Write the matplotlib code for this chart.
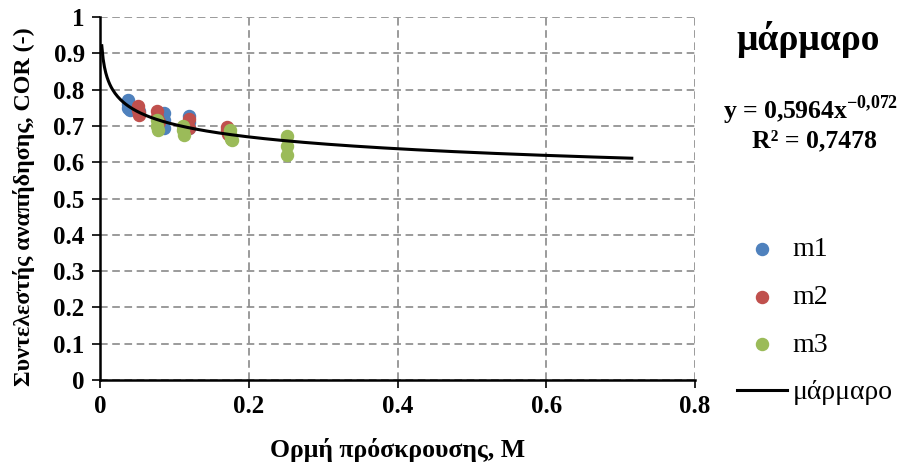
import matplotlib
matplotlib.use("Agg")
import matplotlib.pyplot as plt
import numpy as np

plt.rcParams['font.family'] = ['Liberation Serif', 'DejaVu Serif']
plt.rcParams['mathtext.fontset'] = 'custom'
plt.rcParams['mathtext.rm'] = 'Liberation Serif:bold'
plt.rcParams['mathtext.bf'] = 'Liberation Serif:bold'

# scatter data
m1_x = [0.038, 0.038, 0.038, 0.040, 0.052, 0.086, 0.086, 0.086, 0.120, 0.120, 0.120]
m1_y = [0.770, 0.760, 0.750, 0.745, 0.740, 0.735, 0.715, 0.695, 0.728, 0.712, 0.695]
m2_x = [0.051, 0.051, 0.052, 0.053, 0.077, 0.077, 0.079, 0.119, 0.119, 0.171, 0.171, 0.172]
m2_y = [0.755, 0.745, 0.735, 0.730, 0.740, 0.725, 0.712, 0.718, 0.695, 0.698, 0.688, 0.678]
m3_x = [0.077, 0.077, 0.078, 0.112, 0.112, 0.113, 0.175, 0.175, 0.176, 0.178, 0.251, 0.251, 0.251]
m3_y = [0.715, 0.700, 0.688, 0.700, 0.688, 0.675, 0.690, 0.678, 0.665, 0.660, 0.672, 0.644, 0.620]

# power trendline shown on the chart
fit_a = 0.5964
fit_b = -0.072
fit_x0, fit_x1 = 0.0024, 0.715

fig = plt.figure(figsize=(9.02, 4.67), dpi=100)
ax = fig.add_axes([100 / 902, 1 - 380 / 467, 595 / 902, 363 / 467])

ax.scatter(m1_x, m1_y, s=75, color='#4F81BD', label='m1', zorder=3)
ax.scatter(m2_x, m2_y, s=75, color='#C0504D', label='m2', zorder=3)
ax.scatter(m3_x, m3_y, s=75, color='#9BBB59', label='m3', zorder=3)

xx = np.linspace(fit_x0, fit_x1, 400)
ax.plot(xx, fit_a * xx ** fit_b, color='black', lw=2.2, label='μάρμαρο', zorder=4)

ax.set_xlim(0, 0.8)
ax.set_ylim(0, 1)
ax.set_xticks(np.arange(0, 0.81, 0.2))
ax.set_xticklabels(['0', '0.2', '0.4', '0.6', '0.8'])
ax.set_yticks(np.arange(0, 1.01, 0.1))
ax.set_yticklabels(['0', '0.1', '0.2', '0.3', '0.4', '0.5', '0.6', '0.7', '0.8', '0.9', '1'])
ax.grid(True, color='#808080', linestyle=(0, (5, 3)), lw=1.1)
ax.set_axisbelow(True)
for s in ['top', 'right']:
    ax.spines[s].set_visible(False)
for s in ['left', 'bottom']:
    ax.spines[s].set_linewidth(1.8)
    ax.spines[s].set_color('black')
ax.tick_params(direction='out', length=6, width=1.2, labelsize=18, pad=5)
for lbl in ax.get_xticklabels() + ax.get_yticklabels():
    lbl.set_fontweight('bold')

ax.set_xlabel('Ορμή πρόσκρουσης, M', fontsize=18.5, fontweight='bold', labelpad=14)
ax.set_ylabel('Συντελεστής αναπήδησης, COR (-)', fontsize=17.3, fontweight='bold')
ax.yaxis.set_label_coords(-0.109, 0.477)

fig.text(808 / 902, 1 - 40 / 467, 'μάρμαρο', fontsize=27, fontweight='bold',
         ha='center', va='center')
fig.text(811 / 902, 1 - 110 / 467, r'y = 0,5964x$^{-0{,}072}$', fontsize=18.5,
         fontweight='bold', ha='center', va='center')
fig.text(814 / 902, 1 - 141 / 467, 'R² = 0,7478', fontsize=18.5,
         fontweight='bold', ha='center', va='center')

fig.legend(loc='upper left', bbox_to_anchor=(737 / 902, 1 - 237 / 467), frameon=False,
           fontsize=20, labelspacing=0.8, handlelength=1.8, handletextpad=0.2,
           borderpad=0, borderaxespad=0, markerscale=1.0)

fig.savefig('out.png', dpi=100)
